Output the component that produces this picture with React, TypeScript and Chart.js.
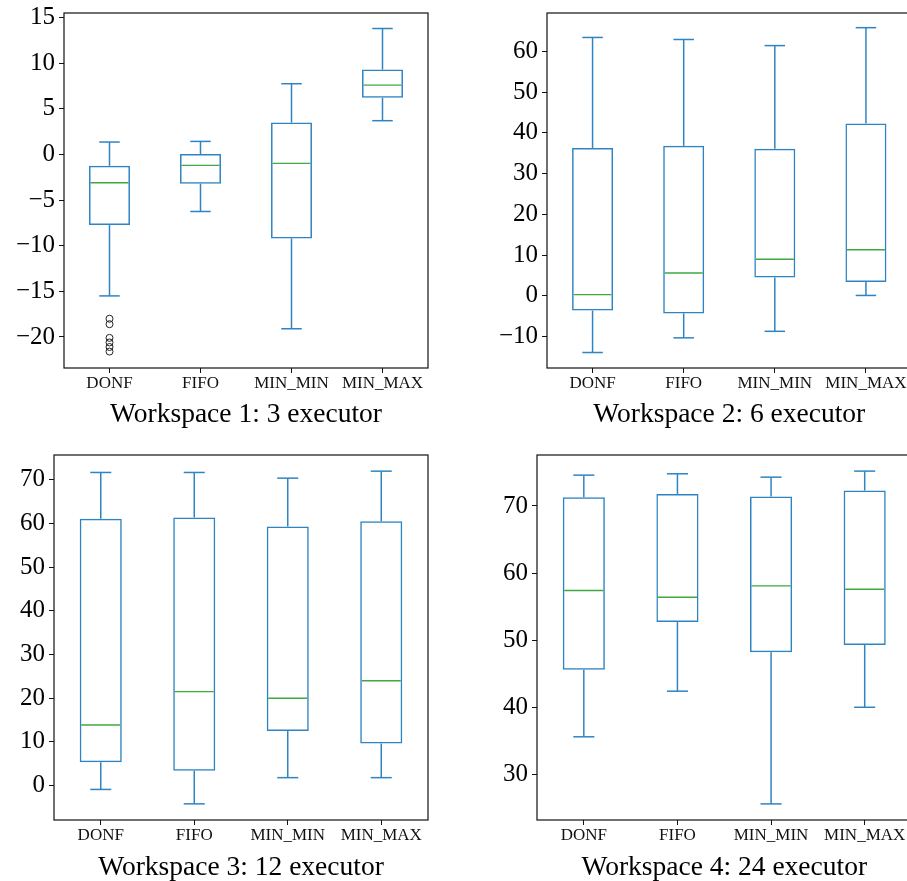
import React, { useEffect, useRef } from "react";
import { Chart, registerables } from "chart.js";
Chart.register(...registerables);

const categories = ["DONF", "FIFO", "MIN_MIN", "MIN_MAX"];

// Workspace 1: 3 executor
const ws1Low = [-15.5, -6.25, -19.1, 3.7];
const ws1Q1 = [-7.74, -3.2, -9.2, 6.2];
const ws1Median = [-3.1, -1.2, -0.98, 7.6];
const ws1Q3 = [-1.24, 0.05, 3.5, 9.3];
const ws1High = [1.36, 1.43, 7.75, 13.8];
const ws1OutlierValues = [-18.0, -18.6, -20.1, -20.6, -21.1, -21.6];
const ws1OutlierCategory = "DONF";
const ws1Ticks = [-20, -15, -10, -5, 0, 5, 10, 15];

// Workspace 2: 6 executor
const ws2Low = [-13.9, -10.3, -8.7, 0.1];
const ws2Q1 = [-3.6, -4.3, 4.5, 3.4];
const ws2Median = [0.3, 5.6, 9.0, 11.3];
const ws2Q3 = [36.3, 36.8, 36.1, 42.3];
const ws2High = [63.4, 62.9, 61.4, 65.8];
const ws2Ticks = [-10, 0, 10, 20, 30, 40, 50, 60];

// Workspace 3: 12 executor
const ws3Low = [-0.9, -4.2, 1.8, 1.8];
const ws3Q1 = [5.3, 3.4, 12.5, 9.6];
const ws3Median = [13.85, 21.5, 20.0, 24.0];
const ws3Q3 = [61.1, 61.4, 59.3, 60.5];
const ws3High = [71.7, 71.7, 70.4, 72.0];
const ws3Ticks = [0, 10, 20, 30, 40, 50, 60, 70];

// Workspace 4: 24 executor
const ws4Low = [35.6, 42.4, 25.6, 40.0];
const ws4Q1 = [45.6, 52.7, 48.2, 49.3];
const ws4Median = [57.4, 56.4, 58.1, 57.6];
const ws4Q3 = [71.3, 71.8, 71.4, 72.3];
const ws4High = [74.6, 74.8, 74.3, 75.2];
const ws4Ticks = [30, 40, 50, 60, 70];

const FONT = "'Liberation Serif', 'Times New Roman', serif";
const BOX = "#2e84c2";
const MED = "#3fa83f";

type PanelCfg = {
  title: string;
  low: number[];
  q1: number[];
  med: number[];
  q3: number[];
  high: number[];
  outliers: { x: string; y: number }[];
  ticks: number[];
  min: number;
  max: number;
  left: number;
  top: number;
  width: number;
  height: number;
  padTop: number;
  padRight: number;
  yAxisW: number;
  xAxisH: number;
  titlePad: number;
};

const panels: PanelCfg[] = [
  {
    title: "Workspace 1: 3 executor",
    low: ws1Low, q1: ws1Q1, med: ws1Median, q3: ws1Q3, high: ws1High,
    outliers: ws1OutlierValues.map((v) => ({ x: ws1OutlierCategory, y: v })),
    ticks: ws1Ticks, min: -23.4, max: 15.5,
    left: 0, top: 0, width: 453, height: 440,
    padTop: 13, padRight: 25, yAxisW: 64, xAxisH: 72, titlePad: 9,
  },
  {
    title: "Workspace 2: 6 executor",
    low: ws2Low, q1: ws2Q1, med: ws2Median, q3: ws2Q3, high: ws2High,
    outliers: [],
    ticks: ws2Ticks, min: -17.7, max: 69.4,
    left: 453, top: 0, width: 470, height: 440,
    padTop: 13, padRight: 11.5, yAxisW: 94, xAxisH: 72, titlePad: 9,
  },
  {
    title: "Workspace 3: 12 executor",
    low: ws3Low, q1: ws3Q1, med: ws3Median, q3: ws3Q3, high: ws3High,
    outliers: [],
    ticks: ws3Ticks, min: -7.9, max: 75.7,
    left: 0, top: 440, width: 453, height: 460,
    padTop: 15, padRight: 25, yAxisW: 54, xAxisH: 80, titlePad: 16,
  },
  {
    title: "Workspace 4: 24 executor",
    low: ws4Low, q1: ws4Q1, med: ws4Median, q3: ws4Q3, high: ws4High,
    outliers: [],
    ticks: ws4Ticks, min: 23.2, max: 77.6,
    left: 453, top: 440, width: 470, height: 460,
    padTop: 15, padRight: 11.5, yAxisW: 84, xAxisH: 80, titlePad: 16,
  },
];

function fmt(v: number) {
  return v < 0 ? "\u2212" + Math.abs(v) : String(v);
}

function Panel({ cfg }: { cfg: PanelCfg }) {
  const ref = useRef<HTMLCanvasElement>(null);
  useEffect(() => {
    const canvas = ref.current!;
    const boxExtras = {
      id: "boxExtras",
      afterDatasetsDraw(chart: any) {
        const { ctx, scales } = chart;
        const x = scales.x;
        const y = scales.y;
        const step = x.getPixelForValue(1) - x.getPixelForValue(0);
        const half = (step * 0.45) / 2;
        const capHalf = half / 2;
        ctx.save();
        ctx.lineCap = "butt";
        const line = (x1: number, y1: number, x2: number, y2: number) => {
          ctx.beginPath();
          ctx.moveTo(x1, y1);
          ctx.lineTo(x2, y2);
          ctx.stroke();
        };
        categories.forEach((_, i) => {
          const cx = x.getPixelForValue(i);
          ctx.strokeStyle = BOX;
          ctx.lineWidth = 1.5;
          line(cx, y.getPixelForValue(cfg.q3[i]), cx, y.getPixelForValue(cfg.high[i]));
          line(cx - capHalf, y.getPixelForValue(cfg.high[i]), cx + capHalf, y.getPixelForValue(cfg.high[i]));
          line(cx, y.getPixelForValue(cfg.q1[i]), cx, y.getPixelForValue(cfg.low[i]));
          line(cx - capHalf, y.getPixelForValue(cfg.low[i]), cx + capHalf, y.getPixelForValue(cfg.low[i]));
          ctx.strokeStyle = MED;
          ctx.lineWidth = 1.4;
          const my = y.getPixelForValue(cfg.med[i]);
          line(cx - half + 1.5, my, cx + half - 1.5, my);
        });
        ctx.restore();
      },
      afterDraw(chart: any) {
        const { ctx, chartArea } = chart;
        ctx.save();
        ctx.strokeStyle = "#111";
        ctx.lineWidth = 1.2;
        ctx.strokeRect(chartArea.left, chartArea.top, chartArea.right - chartArea.left, chartArea.bottom - chartArea.top);
        ctx.restore();
      },
    };
    const chart = new Chart(canvas, {
      type: "bar",
      data: {
        labels: categories,
        datasets: [
          {
            type: "bar",
            data: categories.map((_, i) => [cfg.q1[i], cfg.q3[i]]),
            backgroundColor: "rgba(0,0,0,0)",
            borderColor: BOX,
            borderWidth: 1.5,
            borderSkipped: false,
            barPercentage: 0.45,
            categoryPercentage: 1,
          } as any,
          {
            type: "scatter",
            data: cfg.outliers as any,
            pointStyle: "circle",
            pointRadius: 3.5,
            borderColor: "#222",
            backgroundColor: "rgba(0,0,0,0)",
            borderWidth: 1,
            showLine: false,
          } as any,
        ],
      },
      options: {
        responsive: false,
        animation: false,
        layout: { padding: { top: cfg.padTop, right: cfg.padRight, left: 0, bottom: 0 } },
        plugins: { legend: { display: false }, tooltip: { enabled: false } },
        scales: {
          x: {
            type: "category",
            offset: true,
            grid: {
              display: true,
              drawOnChartArea: false,
              drawTicks: true,
              tickLength: 5,
              offset: false,
              color: "#111",
              tickColor: "#111",
              tickWidth: 1,
            },
            border: { display: false },
            ticks: {
              font: { family: FONT, size: 17 },
              color: "#111",
              padding: 0,
              autoSkip: false,
              maxRotation: 0,
            },
            title: {
              display: true,
              text: cfg.title,
              font: { family: FONT, size: 27.5 },
              color: "#000",
              padding: { top: 0, bottom: cfg.titlePad },
            },
            afterFit: (s: any) => {
              s.height = cfg.xAxisH;
              s.paddingLeft = 0;
              s.paddingRight = 0;
            },
          } as any,
          y: {
            type: "linear",
            min: cfg.min,
            max: cfg.max,
            bounds: "data",
            grid: {
              display: true,
              drawOnChartArea: false,
              drawTicks: true,
              tickLength: 5,
              color: "#111",
              tickColor: "#111",
              tickWidth: 1,
            },
            border: { display: false },
            ticks: {
              font: { family: FONT, size: 25 },
              color: "#000",
              padding: 4,
              callback: (v: any) => fmt(Number(v)),
            },
            afterBuildTicks: (s: any) => {
              s.ticks = cfg.ticks.map((v) => ({ value: v }));
            },
            afterFit: (s: any) => {
              s.width = cfg.yAxisW;
              s.paddingTop = 0;
              s.paddingBottom = 0;
            },
          } as any,
        },
      },
      plugins: [boxExtras],
    });
    return () => chart.destroy();
  }, [cfg]);
  return (
    <canvas
      ref={ref}
      width={cfg.width}
      height={cfg.height}
      style={{
        position: "absolute",
        left: cfg.left,
        top: cfg.top,
        width: cfg.width,
        height: cfg.height,
      }}
    />
  );
}

export default function App() {
  return (
    <div
      style={{
        position: "fixed",
        left: 0,
        top: 0,
        width: 907,
        height: 881,
        overflow: "hidden",
        background: "#fff",
      }}
    >
      {panels.map((p, i) => (
        <Panel key={i} cfg={p} />
      ))}
    </div>
  );
}
